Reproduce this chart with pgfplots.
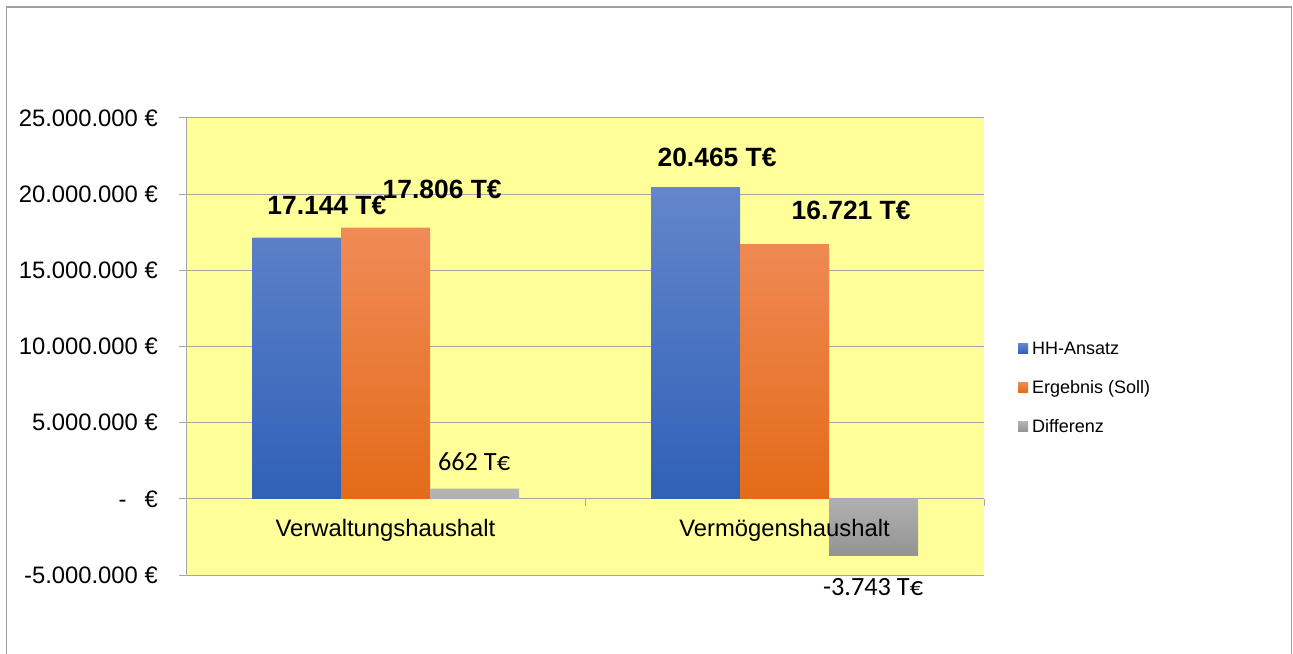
\documentclass[border=0pt]{standalone}
\usepackage{pgfplots}
\pgfplotsset{compat=1.18}
\usepackage{fontspec}
\setmainfont{Liberation Sans}
\newfontfamily\carlito{Carlito}
\definecolor{bgyellow}{HTML}{FFFF99}
\definecolor{gridgray}{HTML}{A6A6A6}
\definecolor{framegray}{HTML}{A0A0A0}
\definecolor{blueT}{HTML}{6486CB}
\definecolor{blueM}{HTML}{4472C4}
\definecolor{blueB}{HTML}{2F61B7}
\definecolor{orangeT}{HTML}{F08B57}
\definecolor{orangeM}{HTML}{F47D2C}
\definecolor{orangeB}{HTML}{E36B18}
\definecolor{grayT}{HTML}{B5B5B5}
\definecolor{grayM}{HTML}{A5A5A5}
\definecolor{grayB}{HTML}{939393}
\pgfplotsset{sqlegend/.style={legend image code/.code={\fill[##1] (0bp,-5bp) rectangle (10bp,5bp);}}}
\begin{document}
\begin{tikzpicture}
\path[use as bounding box] (0,0) rectangle (1293bp,654bp);
\draw[color=framegray, line width=1.3bp] (6.5bp,-10bp) rectangle (1291.3bp,647bp);
\begin{axis}[
  at={(186bp,79bp)}, anchor=south west,
  scale only axis, width=798bp, height=457bp,
  xmin=-0.5, xmax=1.5, ymin=-5000000, ymax=25000000,
  ybar=0pt, bar width=89bp,
  clip=false,
  axis background/.style={fill=bgyellow},
  axis y line*=left, axis x line*=bottom,
  x axis line style={draw=none},
  y axis line style={draw=gridgray, line width=1bp},
  xtick={0,1},
  xticklabels={},
  xtick style={draw=none},
  ytick={-5000000,0,5000000,10000000,15000000,20000000,25000000},
  yticklabels={-5.000.000 €, -\hspace{18bp}€, 5.000.000 €, 10.000.000 €, 15.000.000 €, 20.000.000 €, 25.000.000 €},
  scaled y ticks=false,
  yticklabel style={anchor=east, inner sep=0pt, xshift=-21bp, font=\fontsize{23.8bp}{28bp}\selectfont},
  tick align=outside, major tick length=7bp,
  ytick style={draw=gridgray, line width=1bp},
  ymajorgrids, grid style={draw=gridgray, line width=1bp},
  legend style={at={(1.0426,0.41)}, anchor=west, draw=none, fill=none,
    font=\fontsize{18bp}{21bp}\selectfont, row sep=20.5bp, inner sep=0pt,
    /tikz/every odd column/.append style={column sep=2bp}},
  legend cell align=left,
]
\addplot[draw=none, top color=blueT, middle color=blueM, bottom color=blueB, sqlegend] coordinates {(0,17144000) (1,20465000)};
\addlegendentry{HH-Ansatz}
\addplot[draw=none, top color=orangeT, middle color=orangeM, bottom color=orangeB, sqlegend] coordinates {(0,17806000) (1,16721000)};
\addlegendentry{Ergebnis (Soll)}
\addplot[draw=none, top color=grayT, middle color=grayM, bottom color=grayB, sqlegend] coordinates {(0,662000) (1,-3743000)};
\addlegendentry{Differenz}
\draw[gridgray, line width=1bp] (axis cs:0.5,0) -- ([yshift=-7bp]axis cs:0.5,0);
\draw[gridgray, line width=1bp] (axis cs:1.5,0) -- ([yshift=-7bp]axis cs:1.5,0);
\node[anchor=base, font=\fontsize{23.8bp}{28bp}\selectfont] at ([yshift=-38bp]axis cs:0,0) {Verwaltungshaushalt};
\node[anchor=base, font=\fontsize{23.8bp}{28bp}\selectfont] at ([yshift=-38bp]axis cs:1,0) {Vermögenshaushalt};
\node[font=\fontsize{26.4bp}{30bp}\selectfont\bfseries] at (axis cs:-0.147,19290000) {17.144 T€};
\node[font=\fontsize{26.4bp}{30bp}\selectfont\bfseries] at (axis cs:0.142,20280000) {17.806 T€};
\node[font=\fontsize{26.4bp}{30bp}\selectfont\bfseries] at (axis cs:0.831,22440000) {20.465 T€};
\node[font=\fontsize{26.4bp}{30bp}\selectfont\bfseries] at (axis cs:1.167,18960000) {16.721 T€};
\node[font=\carlito\fontsize{26.3bp}{30bp}\selectfont] at (axis cs:0.222,2430000) {662 T€};
\node[font=\carlito\fontsize{26.3bp}{30bp}\selectfont] at (axis cs:1.222,-5770000) {-3.743 T€};
\end{axis}
\end{tikzpicture}
\end{document}
